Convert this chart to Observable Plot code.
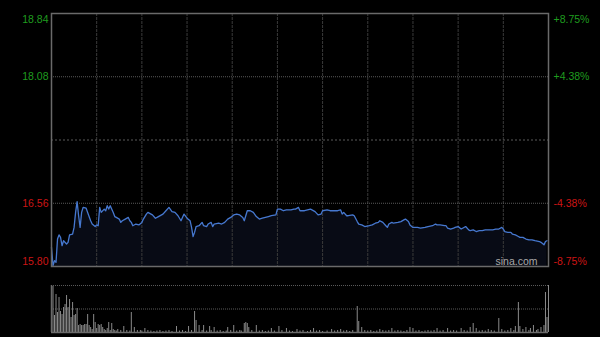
<!DOCTYPE html>
<html><head><meta charset="utf-8">
<script src="https://cdn.jsdelivr.net/npm/d3@7"></script>
<script src="https://cdn.jsdelivr.net/npm/@observablehq/plot@0.6"></script>
<style>
html,body{margin:0;padding:0;background:#000;}
#wrap{position:relative;width:600px;height:337px;background:#000;overflow:hidden;}
#wrap svg{position:absolute;left:0;display:block;}
</style></head><body><div id="wrap"></div>
<script>
// minutes since 09:30 (continuous session index, 0..330)
const priceMinutes = [0,1,2,3,4,5,6,7,8,10,11,12,14,15,16,17,18,19,20,21,23,24,26,27,29,30,31,32,33,35,36,37,38,39,41,42,43,45,46,47,49,51,52,53,54,56,58,60,61,63,64,67,69,71,74,76,78,80,82,84,86,88,90,92,93,94,95,96,98,100,101,103,104,106,107,108,111,113,115,117,119,121,123,125,127,128,129,130,132,134,136,138,140,142,144,146,149,150,152,154,156,159,161,162,164,165,168,170,172,175,177,179,180,183,185,187,190,192,193,194,196,197,200,201,203,204,206,208,211,213,215,217,218,220,222,223,224,226,227,230,232,234,235,237,238,240,243,245,248,250,253,255,256,258,261,262,263,265,267,268,270,272,273,275,277,278,280,282,284,286,288,290,293,295,297,299,300,301,303,305,306,308,310,311,313,315,317,319,321,324,325,327,328,329];
const prices = [16.03,15.81,15.87,15.85,16.13,16.18,16.15,16.05,16.11,16.07,16.09,16.18,16.19,16.27,16.45,16.58,16.41,16.27,16.45,16.51,16.50,16.45,16.35,16.31,16.28,16.30,16.29,16.51,16.45,16.49,16.47,16.53,16.49,16.53,16.45,16.40,16.39,16.37,16.33,16.35,16.37,16.39,16.35,16.33,16.29,16.31,16.30,16.33,16.37,16.43,16.45,16.42,16.38,16.40,16.43,16.47,16.51,16.46,16.45,16.41,16.35,16.43,16.38,16.35,16.27,16.16,16.21,16.28,16.29,16.33,16.29,16.28,16.31,16.33,16.28,16.31,16.32,16.31,16.33,16.37,16.39,16.42,16.43,16.42,16.39,16.35,16.41,16.47,16.47,16.45,16.40,16.37,16.38,16.39,16.40,16.41,16.42,16.49,16.49,16.47,16.48,16.48,16.49,16.49,16.51,16.47,16.47,16.48,16.49,16.46,16.42,16.43,16.47,16.48,16.47,16.47,16.47,16.48,16.43,16.45,16.41,16.41,16.42,16.41,16.34,16.31,16.30,16.28,16.29,16.30,16.32,16.33,16.35,16.33,16.29,16.27,16.31,16.33,16.32,16.33,16.34,16.36,16.37,16.34,16.30,16.27,16.27,16.26,16.27,16.28,16.29,16.31,16.30,16.30,16.29,16.29,16.26,16.25,16.26,16.27,16.28,16.25,16.26,16.28,16.24,16.23,16.24,16.22,16.23,16.23,16.24,16.24,16.24,16.25,16.25,16.27,16.25,16.22,16.21,16.21,16.19,16.18,16.16,16.15,16.15,16.13,16.12,16.12,16.11,16.10,16.09,16.06,16.10,16.11];

const volMinutes = [0,1,2,3,4,5,6,7,8,9,10,11,12,13,14,15,16,17,18,19,20,21,22,23,24,25,26,27,28,29,30,31,32,33,34,35,36,37,38,39,40,41,42,43,44,46,48,50,52,53,55,57,59,60,62,64,66,68,70,72,74,76,78,80,83,85,87,89,91,93,95,96,98,100,101,103,105,106,108,110,112,114,116,117,119,121,123,125,126,128,129,130,131,133,136,138,140,142,144,146,148,151,153,156,158,160,163,165,167,170,172,174,176,178,180,183,186,188,190,192,194,196,198,200,203,204,206,208,210,212,214,216,218,220,222,224,226,228,230,232,234,236,238,240,242,244,246,248,250,252,254,256,258,260,263,265,267,269,272,274,276,278,280,282,284,286,288,290,292,294,297,299,301,303,305,307,308,310,311,313,315,317,318,320,322,323,325,327,328,329,330];
const volumes = [470,460,170,380,200,350,210,180,250,280,370,250,330,150,300,170,180,240,70,80,70,70,80,80,180,70,50,30,180,100,40,80,70,80,50,30,20,40,100,20,90,30,20,15,30,20,60,20,15,200,50,20,20,15,40,20,15,10,15,20,10,15,20,10,60,15,20,10,60,20,210,120,70,20,70,15,60,20,50,15,20,10,15,50,20,70,15,20,15,90,100,90,50,20,70,15,20,10,15,40,15,60,20,40,15,10,30,15,20,10,20,40,15,20,10,15,30,15,20,30,15,20,10,20,260,110,50,20,15,20,10,15,30,20,15,20,40,15,20,15,10,20,50,40,15,20,10,15,20,15,20,40,15,20,40,15,20,15,40,20,15,50,90,40,15,20,15,30,20,15,140,30,15,20,40,20,60,300,60,30,50,20,40,70,20,30,50,70,400,150,470];

const prevClose = 17.32;
const priceTicks = [18.84, 18.08, 16.56, 15.80];
const pctLabels = ["+8.75%", "+4.38%", "-4.38%", "-8.75%"];
const gridPrices = [18.08, 16.56];
const gridMinutes = [30, 60, 90, 120, 150, 180, 210, 240, 270, 300];
const sessionMinutes = [0, 330];
const watermark = "sina.com";

const price = priceMinutes.map((t, i) => ({t, p: prices[i]}));
const vol = volMinutes.map((t, i) => ({t, v: volumes[i]}));
const lo = priceTicks[priceTicks.length - 1], hi = priceTicks[0];
const volMax = d3.max(volumes);

const GREEN = "#1f9c1f", RED = "#cc1515";
const font = "'Liberation Sans', Arial, sans-serif";

const labelMarks = [];
priceTicks.forEach((v, i) => {
  const dy = i === 0 ? 6 : (i === priceTicks.length - 1 ? -5 : 0);
  const fill = v > prevClose ? GREEN : RED;
  labelMarks.push(Plot.text([v], {y: d => d, text: d => d.toFixed(2), frameAnchor: "left", textAnchor: "end", dx: -3, dy, fill, fontSize: 10.5}));
  labelMarks.push(Plot.text([v], {y: d => d, text: () => pctLabels[i], frameAnchor: "right", textAnchor: "start", dx: 5, dy, fill, fontSize: 10.5}));
});

const chart1 = Plot.plot({
  width: 600, height: 270,
  marginLeft: 51, marginRight: 52, marginTop: 13, marginBottom: 4,
  style: {background: "transparent", fontFamily: font, fontSize: "10px", overflow: "visible"},
  x: {domain: sessionMinutes, axis: null},
  y: {domain: [lo, hi], axis: null},
  marks: [
    Plot.areaY(price, {x: "t", y1: () => lo, y2: "p", fill: "#080b15"}),
    Plot.ruleX(gridMinutes, {stroke: "#3a3a3a", strokeDasharray: "3,1"}),
    Plot.ruleY(gridPrices, {stroke: "#5a5a5a", strokeDasharray: "1,1"}),
    Plot.ruleY([prevClose], {stroke: "#5a5a5a", strokeDasharray: "2,2"}),
    Plot.lineY(price, {x: "t", y: "p", stroke: "#4678cf", strokeWidth: 1.3}),
    Plot.frame({stroke: "#6a6a6a", strokeWidth: 1.5}),
    Plot.text([watermark], {frameAnchor: "bottom-right", textAnchor: "end", lineAnchor: "middle", dx: -11, dy: -4.5, fill: "#a8a8a8", fontSize: 10.5}),
    ...labelMarks
  ]
});

const chart2 = Plot.plot({
  width: 600, height: 67,
  marginLeft: 51, marginRight: 52, marginTop: 15, marginBottom: 5,
  style: {background: "transparent", fontFamily: font, overflow: "visible"},
  x: {domain: sessionMinutes, axis: null},
  y: {domain: [0, volMax], axis: null},
  marks: [
    Plot.ruleY([volMax, volMax / 2], {stroke: "#5a5a5a", strokeDasharray: "1,1"}),
    Plot.ruleX(vol, {x: "t", y1: () => 0, y2: "v", stroke: "#8a8a8a", strokeWidth: 1}),
    Plot.ruleY([0], {stroke: "#6a6a6a", strokeWidth: 1.5}),
    Plot.ruleX([sessionMinutes[0]], {stroke: "#6a6a6a", strokeWidth: 1.5})
  ]
});

const wrap = document.getElementById("wrap");
chart1.style.top = "0px";
chart2.style.top = "270px";
wrap.appendChild(chart1);
wrap.appendChild(chart2);
</script>
</body></html>
